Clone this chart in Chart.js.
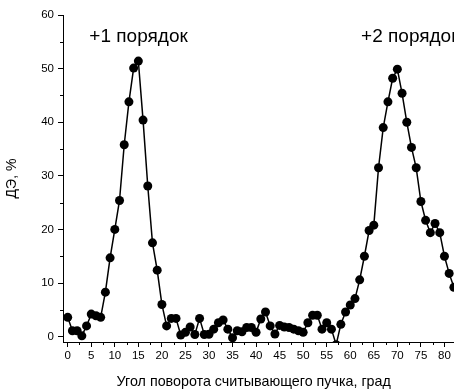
<!DOCTYPE html>
<html>
<head>
<meta charset="utf-8">
<script src="https://cdn.jsdelivr.net/npm/chart.js@4"></script>
<style>
  html, body { margin: 0; padding: 0; background: #fff; overflow: hidden; }
  #wrap { position: relative; width: 480px; height: 389px; }
</style>
</head>
<body>
<div id="wrap"><canvas id="c"></canvas></div>
<script>
// Angle of rotation (degrees)
const angles = [0,1,2,3,4,5,6,7,8,9,10,11,12,13,14,15,16,17,18,19,20,21,22,23,24,25,26,27,28,29,30,31,32,33,34,35,36,37,38,39,40,41,42,43,44,45,46,47,48,49,50,51,52,53,54,55,56,57,58,59,60,61,62,63,64,65,66,67,68,69,70,71,72,73,74,75,76,77,78,79,80,81,82];
// Diffraction efficiency, %
const efficiency = [3.6,1.1,1.1,0.15,2.0,4.2,3.9,3.6,8.3,14.7,20.0,25.4,35.8,43.8,50.1,51.4,40.4,28.1,17.5,12.4,6.0,2.0,3.4,3.4,0.3,0.8,1.8,0.4,3.4,0.4,0.45,1.4,2.6,3.1,1.4,-0.2,1.1,0.9,1.7,1.7,0.8,3.3,4.6,2.0,0.5,2.1,1.8,1.7,1.4,1.1,0.8,2.6,4.0,4.0,1.4,2.6,1.4,-1.5,2.3,4.6,5.9,7.1,10.6,15.0,19.8,20.8,31.5,39.0,43.8,48.2,49.9,45.4,40.0,35.3,31.5,25.2,21.7,19.4,21.1,19.4,15.0,11.8,9.2];
const xTicksMajor = [0,5,10,15,20,25,30,35,40,45,50,55,60,65,70,75,80];
const yTicksMajor = [0,10,20,30,40,50,60];
const annotations = [
  { text: '+1 порядок', x: 4.6, y: 54.9 },
  { text: '+2 порядок', x: 62.3, y: 54.9 }
];
const xTitle = 'Угол поворота считывающего пучка, град';
const yTitle = 'ДЭ, %';

const FONT = '"Liberation Sans", Arial, sans-serif';

const extras = {
  id: 'extras',
  afterDraw(chart) {
    const ctx = chart.ctx;
    const xs = chart.scales.x, ys = chart.scales.y;
    const area = chart.chartArea;
    ctx.save();
    ctx.strokeStyle = '#000';
    ctx.lineWidth = 1;
    ctx.beginPath();
    for (let i = 0; i < xTicksMajor.length; i++) {
      const v = xTicksMajor[i] + 2.5;
      const px = Math.round(xs.getPixelForValue(v)) + 0.5;
      ctx.moveTo(px, area.bottom);
      ctx.lineTo(px, area.bottom + 3);
    }
    for (let i = 0; i < yTicksMajor.length - 1; i++) {
      const v = yTicksMajor[i] + 5;
      const py = Math.round(ys.getPixelForValue(v)) + 0.5;
      ctx.moveTo(area.left - 3, py);
      ctx.lineTo(area.left, py);
    }
    ctx.stroke();
    ctx.fillStyle = '#000';
    ctx.font = '19px ' + FONT;
    ctx.textAlign = 'left';
    ctx.textBaseline = 'alphabetic';
    annotations.forEach(a => {
      ctx.fillText(a.text, xs.getPixelForValue(a.x), ys.getPixelForValue(a.y));
    });
    // x axis title, centred under the visible range of the axis
    ctx.font = '14.3px ' + FONT;
    ctx.textAlign = 'center';
    const cx = (xs.getPixelForValue(xs.min) + xs.getPixelForValue(80)) / 2;
    ctx.fillText(xTitle, cx, chart.height - 3);
    ctx.restore();
  }
};

new Chart(document.getElementById('c'), {
  type: 'line',
  data: {
    datasets: [{
      data: angles.map((a, i) => ({ x: a, y: efficiency[i] })),
      borderColor: '#000',
      backgroundColor: '#000',
      borderWidth: 1.5,
      pointRadius: 4.5,
      pointBorderWidth: 0,
      pointBackgroundColor: '#000',
      tension: 0,
      fill: false
    }]
  },
  options: {
    responsive: true,
    maintainAspectRatio: false,
    animation: false,
    events: [],
    layout: { padding: { top: 15, right: 12, left: 0, bottom: 0 } },
    plugins: { legend: { display: false }, tooltip: { enabled: false } },
    scales: {
      x: {
        type: 'linear',
        min: -1, max: 85,
        afterFit(s) { s.height = 47; },
        border: { display: true, color: '#000', width: 1 },
        grid: { display: true, drawOnChartArea: false, drawTicks: true, tickLength: 5, color: '#000', tickWidth: 1 },
        ticks: { stepSize: 5, includeBounds: false, color: '#000', padding: 2, maxRotation: 0, autoSkip: false,
                 font: { family: FONT, size: 11.5 } },
        title: { display: false }
      },
      y: {
        type: 'linear',
        min: -1, max: 60,
        afterFit(s) { s.width = 63; },
        border: { display: true, color: '#000', width: 1 },
        grid: { display: true, drawOnChartArea: false, drawTicks: true, tickLength: 5, color: '#000', tickWidth: 1 },
        ticks: { stepSize: 10, includeBounds: false, color: '#000', padding: 4,
                 font: { family: FONT, size: 11.5 } },
        title: { display: true, text: yTitle, color: '#000', font: { family: FONT, size: 14 }, padding: { top: 4, bottom: 0 } }
      }
    }
  },
  plugins: [extras]
});
</script>
</body>
</html>
